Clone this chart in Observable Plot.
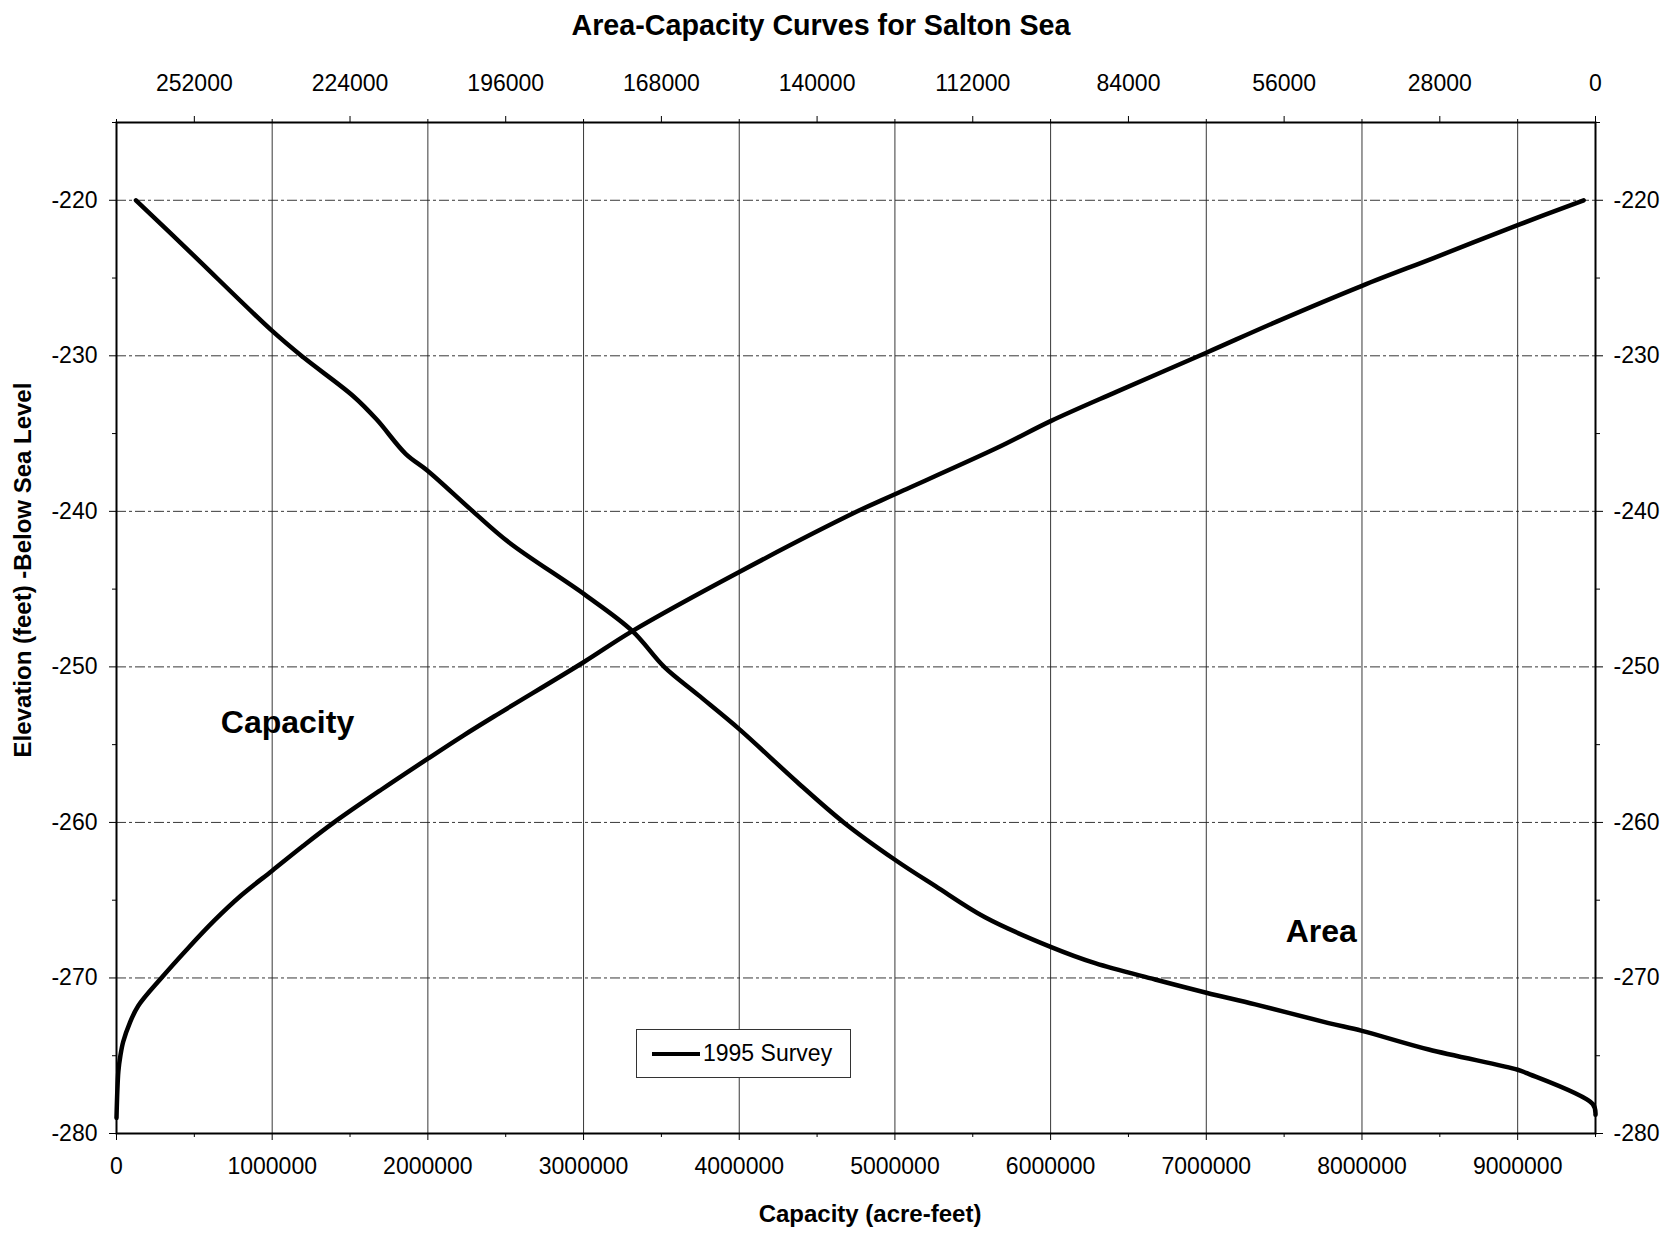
<!DOCTYPE html>
<html>
<head>
<meta charset="utf-8">
<script src="https://cdn.jsdelivr.net/npm/d3@7"></script>
<script src="https://cdn.jsdelivr.net/npm/@observablehq/plot@0.6"></script>
<style>
  html, body { margin: 0; padding: 0; background: #fff; }
  body { font-family: "Liberation Sans", Arial, Helvetica, sans-serif; color: #000; }
  #wrap { position: relative; width: 1669px; height: 1233px; overflow: hidden; }
  #title { height: 50px; line-height: 50px; width: 1669px; box-sizing: border-box; padding-right: 27px;
           text-align: center; font-size: 28.7px; font-weight: bold; }
  #ytitle { position: absolute; left: 22.5px; top: 570px; transform: translate(-50%, -50%) rotate(-90deg);
            white-space: nowrap; font-size: 24px; font-weight: bold; line-height: 1; }
  #legend { position: absolute; left: 636px; top: 1029px; width: 215px; height: 49px; box-sizing: border-box;
            border: 1px solid #333; background: #fff; display: flex; align-items: center; padding-left: 15px;
            font-size: 23px; }
  #legend .swatch { width: 48px; height: 4px; background: #000; margin-right: 3px; }
</style>
</head>
<body>
<div id="wrap">
  <div id="title">Area-Capacity Curves for Salton Sea</div>
  <div id="chart"></div>
  <div id="ytitle"></div>
  <div id="legend"><div class="swatch"></div><span id="legendText"></span></div>
</div>
<script>
// ---------- data ----------
// Capacity curve: capacity (acre-feet) vs elevation (feet)
const capacityAcreFeet = [0, 12000, 25000, 43000, 85000, 139000, 288000, 458000, 629000, 800000,
  1000000, 1200000, 1397000, 1700000, 2000000, 2230000, 2456000, 3000000, 3313000, 4000000,
  4759000, 5000000, 5661000, 6000000, 6426000, 7000000, 7452000, 8000000, 8464000, 9000000, 9424000];
const capacityElevation = [-279.0, -276.0, -275.0, -274.1, -272.9, -271.8, -270.0, -268.1, -266.3, -264.7,
  -263.1, -261.5, -260.0, -257.9, -255.9, -254.4, -253.0, -249.7, -247.7, -243.9,
  -240.0, -238.9, -235.9, -234.2, -232.3, -229.8, -227.8, -225.5, -223.7, -221.6, -220.0];

// Area curve: area (acres) vs elevation (feet)
const areaAcres = [262500, 252700, 238000, 232400, 223400, 219200, 214000, 210000, 201900, 195400,
  181600, 173200, 167500, 161400, 154000, 143600, 135200, 126000, 118700, 109800,
  98000, 90000, 79200, 70000, 61200, 48000, 42000, 30000, 14000, 12500, 500, 0];
const areaElevation = [-220.0, -223.35, -228.4, -230.1, -232.6, -234.1, -236.3, -237.4, -240.0, -242.0,
  -245.4, -247.7, -250.0, -251.8, -254.0, -257.4, -260.0, -262.4, -264.1, -266.1,
  -268.0, -269.05, -270.1, -270.95, -271.7, -272.9, -273.4, -274.6, -275.9, -276.1, -278.1, -278.8];

// Axis tick values
const capacityTicks = [0, 1000000, 2000000, 3000000, 4000000, 5000000, 6000000, 7000000, 8000000, 9000000];
const capacityMinorTicks = [500000, 1500000, 2500000, 3500000, 4500000, 5500000, 6500000, 7500000, 8500000, 9500000];
const areaTicks = [252000, 224000, 196000, 168000, 140000, 112000, 84000, 56000, 28000, 0];
const areaMinorTicks = [266000, 238000, 210000, 182000, 154000, 126000, 98000, 70000, 42000, 14000];
const elevationTicks = [-220, -230, -240, -250, -260, -270, -280];
const elevationMinorTicks = [-215, -225, -235, -245, -255, -265, -275];

// Scale extents
const capacityMax = 9500000;   // bottom axis maximum (acre-feet)
const areaMax = 266000;        // top axis maximum (acres), reversed
const elevationDomain = [-280, -215];

// Text
const annotationLabels = ["Capacity", "Area"];
const annotationCapacity = [670000, 7510000];
const annotationElevation = [-253.6, -267.0];
const xAxisTitle = "Capacity (acre-feet)";
const yAxisTitle = "Elevation (feet) -Below Sea Level";
const legendLabel = "1995 Survey";

// ---------- chart ----------
const xFromArea = a => capacityMax * (1 - a / areaMax);
const areaFromX = x => areaMax * (1 - x / capacityMax);

const capacityData = capacityAcreFeet.map((c, i) => ({x: c, y: capacityElevation[i]}));
const areaData = areaAcres.map((a, i) => ({x: xFromArea(a), y: areaElevation[i]}));
const annotations = annotationLabels.map((t, i) => ({text: t, x: annotationCapacity[i], y: annotationElevation[i]}));

const fmt = d => String(Math.round(d));
const blank = () => "";

const chart = Plot.plot({
  width: 1669,
  height: 1183,
  marginTop: 72,
  marginLeft: 116,
  marginRight: 74,
  marginBottom: 100,
  style: {fontFamily: "'Liberation Sans', Arial, sans-serif", fontSize: "23px", color: "#000", background: "#fff", overflow: "visible"},
  x: {domain: [0, capacityMax], label: null},
  y: {domain: elevationDomain, label: null},
  marks: [
    Plot.gridY(elevationTicks.filter(d => d !== -280), {stroke: "#222", strokeOpacity: 0.9, strokeWidth: 1, strokeDasharray: "10,3,3,3"}),
    Plot.gridX(capacityTicks.filter(d => d !== 0), {stroke: "#222", strokeOpacity: 0.9, strokeWidth: 1}),
    // bottom axis
    Plot.axisX(capacityTicks, {anchor: "bottom", tickSize: 7, tickPadding: 17, tickFormat: fmt, fontSize: 23, label: null}),
    Plot.axisX(capacityMinorTicks, {anchor: "bottom", tickSize: 4, tickFormat: blank, label: null}),
    // top axis (area, reversed)
    Plot.axisX(areaTicks.map(xFromArea), {anchor: "top", tickSize: 7, tickPadding: 25, tickFormat: d => fmt(areaFromX(d)), fontSize: 23, label: null}),
    Plot.axisX(areaMinorTicks.map(xFromArea), {anchor: "top", tickSize: 4, tickFormat: blank, label: null}),
    // left & right axes
    Plot.axisY(elevationTicks, {anchor: "left", tickSize: 7, tickPadding: 12, tickFormat: fmt, fontSize: 23, label: null}),
    Plot.axisY(elevationMinorTicks, {anchor: "left", tickSize: 4, tickFormat: blank, label: null}),
    Plot.axisY(elevationTicks, {anchor: "right", tickSize: 7, tickPadding: 11, tickFormat: fmt, fontSize: 23, label: null}),
    Plot.axisY(elevationMinorTicks, {anchor: "right", tickSize: 4, tickFormat: blank, label: null}),
    Plot.frame({stroke: "#000", strokeWidth: 2}),
    // curves
    Plot.line(capacityData, {x: "x", y: "y", curve: "catmull-rom", stroke: "#000", strokeWidth: 4.5, strokeLinejoin: "round", strokeLinecap: "round"}),
    Plot.line(areaData, {x: "x", y: "y", curve: "catmull-rom", stroke: "#000", strokeWidth: 4.5, strokeLinejoin: "round", strokeLinecap: "round"}),
    // annotations
    Plot.text(annotations, {x: "x", y: "y", text: "text", textAnchor: "start", fontSize: 32, fontWeight: "bold", fill: "#000"}),
    // x axis title
    Plot.text([xAxisTitle], {text: d => d, frameAnchor: "bottom", dy: 81, dx: 14, lineAnchor: "middle", fontSize: 24, fontWeight: "bold", fill: "#000"})
  ]
});
document.getElementById("chart").appendChild(chart);
document.getElementById("ytitle").textContent = yAxisTitle;
document.getElementById("legendText").textContent = legendLabel;
</script>
</body>
</html>
